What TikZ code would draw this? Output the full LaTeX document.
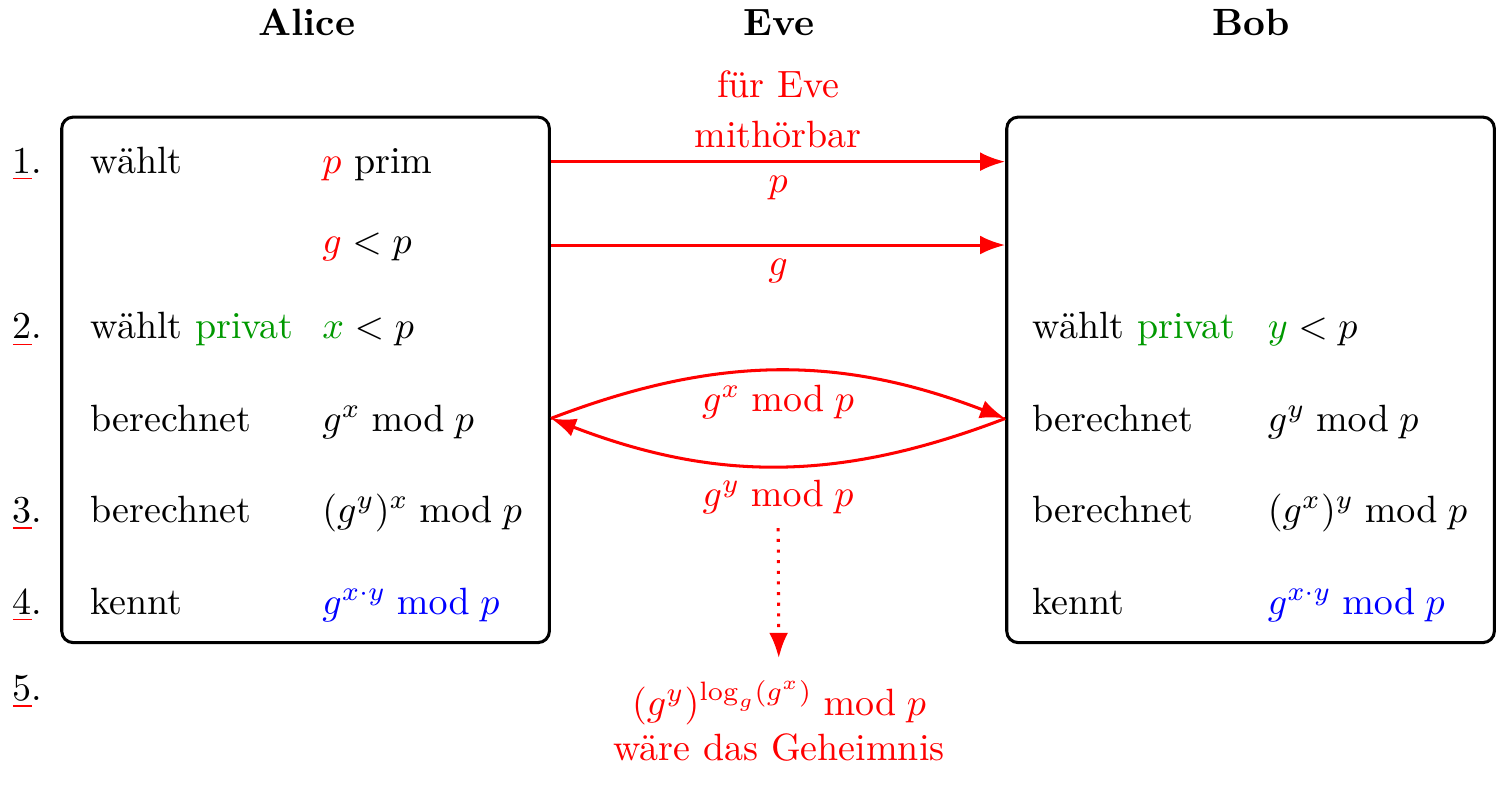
\documentclass[tikz,border=0pt]{standalone}
\usepackage{amsmath}
\usepackage{tikz}
\usepackage{xcolor}
\usetikzlibrary{arrows.meta}

\definecolor{privat}{RGB}{0,153,0}
\newcommand{\stepnr}[1]{\textcolor{red}{\underline{\textcolor{black}{#1}}}.}

\begin{document}
\begin{tikzpicture}[
        box/.style={draw, thick, rounded corners=3pt, minimum width=4.51cm, minimum height=4.86cm},
        txt/.style={anchor=base west, inner sep=0pt},
        head/.style={anchor=base, font=\bfseries},
        msg/.style={red, thick, -{Latex}},
        lbl/.style={red}
    ]
        \useasboundingbox (0,0) rectangle (13.91,-7.26);
        % Parties
        \node[head] (alice) at (2.84,-0.324) {Alice};
        \node[head] (eve) at (7.205,-0.324) {Eve};
        \node[head] (bob) at (11.57,-0.324) {Bob};
        % Boxes
        \node[box] (alicebox) at (2.826,-3.513) {};
        \node[box] (bobbox) at (11.566,-3.513) {};
        % Steps
        \node[txt] (s1) at (0.111,-1.600) {\stepnr{1}};
        \node[txt] (s2) at (0.111,-3.135) {\stepnr{2}};
        \node[txt] (s3) at (0.111,-4.828) {\stepnr{3}};
        \node[txt] (s4) at (0.111,-5.679) {\stepnr{4}};
        \node[txt] (s5) at (0.111,-6.474) {\stepnr{5}};
        % Alice
        \node[txt] (a1) at (0.832,-1.600) {wählt};
        \node[txt] (a1v) at (2.975,-1.600) {\textcolor{red}{$p$} prim};
        \node[txt] (a2v) at (2.975,-2.340) {$\textcolor{red}{g} < p$};
        \node[txt] (a3) at (0.832,-3.135) {wählt \textcolor{privat}{privat}};
        \node[txt] (a3v) at (2.975,-3.135) {$\textcolor{privat}{x} < p$};
        \node[txt] (a4) at (0.832,-3.986) {berechnet};
        \node[txt] (a4v) at (2.975,-3.986) {$g^x \bmod p$};
        \node[txt] (a5) at (0.832,-4.828) {berechnet};
        \node[txt] (a5v) at (2.975,-4.828) {$(g^y)^x \bmod p$};
        \node[txt] (a6) at (0.832,-5.679) {kennt};
        \node[txt] (a6v) at (2.975,-5.679) {\textcolor{blue}{$g^{x\cdot y} \bmod p$}};
        % Bob
        \node[txt] (b3) at (9.545,-3.135) {wählt \textcolor{privat}{privat}};
        \node[txt] (b3v) at (11.718,-3.135) {$\textcolor{privat}{y} < p$};
        \node[txt] (b4) at (9.545,-3.986) {berechnet};
        \node[txt] (b4v) at (11.718,-3.986) {$g^y \bmod p$};
        \node[txt] (b5) at (9.545,-4.828) {berechnet};
        \node[txt] (b5v) at (11.718,-4.828) {$(g^x)^y \bmod p$};
        \node[txt] (b6) at (9.545,-5.679) {kennt};
        \node[txt] (b6v) at (11.718,-5.679) {\textcolor{blue}{$g^{x\cdot y} \bmod p$}};
        % Messages
        \coordinate (mp) at (7.205,-1.495);
        \coordinate (mg) at (7.205,-2.266);
        \coordinate (mk) at (7.205,-3.870);
        \draw[msg] (alicebox.east |- mp) -- (bobbox.west |- mp)
            node[lbl, midway, above, align=center] (hear) {für Eve\\[1pt] mithörbar}
            node[lbl, midway, below] (lp) {$p$};
        \draw[msg] (alicebox.east |- mg) -- (bobbox.west |- mg)
            node[lbl, midway, below] (lg) {$g$};
        \draw[msg] (alicebox.east |- mk) to[bend left=21]
            node[lbl, midway, below] (lgx) {$g^x \bmod p$} (bobbox.west |- mk);
        \draw[msg] (bobbox.west |- mk) to[bend left=21]
            node[lbl, midway, below] (lgy) {$g^y \bmod p$} (alicebox.east |- mk);
        % Eve
        \node[lbl, anchor=north, align=center] (secret) at (7.205,-6.17)
            {$(g^y)^{\log_g(g^x)} \bmod p$\\ wäre das Geheimnis};
        \draw[msg, dotted, shorten >=2.4pt] (lgy) -- (secret);
\end{tikzpicture}
\end{document}
